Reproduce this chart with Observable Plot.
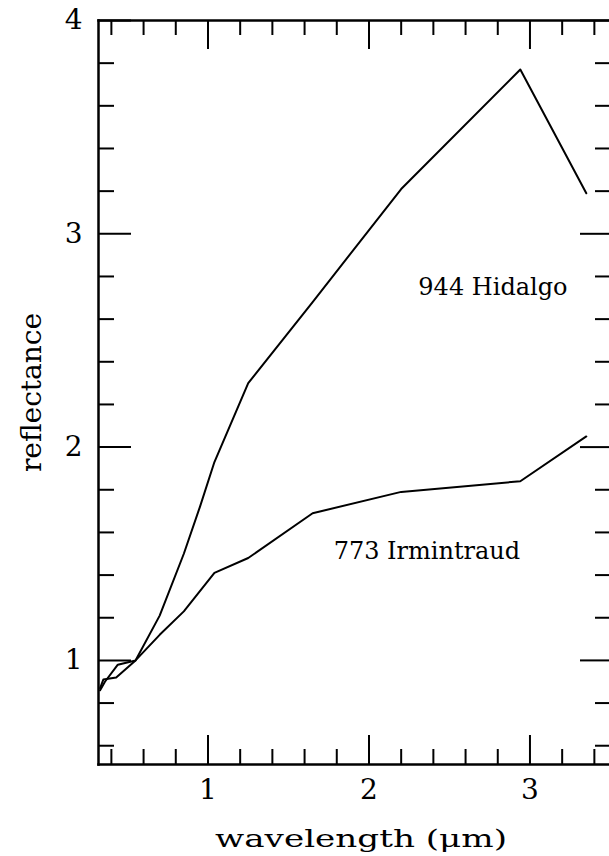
<!DOCTYPE html>
<html><head><meta charset="utf-8">
<script src="https://cdn.jsdelivr.net/npm/d3@7"></script>
<script src="https://cdn.jsdelivr.net/npm/@observablehq/plot@0.6"></script>
<style>html,body{margin:0;padding:0;background:#fff}</style>
</head><body><div id="chart"></div>
<script>
// Data
const hidalgoWavelength  = [0.33, 0.36, 0.44, 0.55, 0.70, 0.85, 0.95, 1.04, 1.25, 1.65, 2.20, 2.94, 3.35];
const hidalgoReflectance = [0.86, 0.90, 0.98, 1.00, 1.21, 1.50, 1.72, 1.93, 2.30, 2.68, 3.21, 3.77, 3.19];
const irmWavelength      = [0.33, 0.35, 0.43, 0.55, 0.70, 0.85, 1.04, 1.25, 1.65, 2.20, 2.94, 3.35];
const irmReflectance     = [0.87, 0.91, 0.92, 1.00, 1.12, 1.23, 1.41, 1.48, 1.69, 1.79, 1.84, 2.05];
const seriesNames = ["944 Hidalgo", "773 Irmintraud"];
const labelX = [2.77, 2.36];
const labelY = [2.75, 1.51];
const xMajorTicks = [1, 2, 3];
const xMinorTicks = [0.4, 0.6, 0.8, 1.2, 1.4, 1.6, 1.8, 2.2, 2.4, 2.6, 2.8, 3.2, 3.4];
const yMajorTicks = [1, 2, 3, 4];
const yMinorTicks = [0.6, 0.8, 1.2, 1.4, 1.6, 1.8, 2.2, 2.4, 2.6, 2.8, 3.2, 3.4, 3.6, 3.8];
const xTitle = "wavelength (\u03bcm)";
const yTitle = "reflectance";

const hidalgo = hidalgoWavelength.map((w, i) => ({w, r: hidalgoReflectance[i]}));
const irm = irmWavelength.map((w, i) => ({w, r: irmReflectance[i]}));
const labels = seriesNames.map((name, i) => ({name, x: labelX[i], y: labelY[i]}));

const W = 609, H = 856, mL = 98, mR = 0, mT = 20, mB = 92;
const iW = W - mL - mR, iH = H - mT - mB;
const sw = 2;

const chart = Plot.plot({
  width: W, height: H,
  marginLeft: mL, marginRight: mR, marginTop: mT, marginBottom: mB,
  style: {fontFamily: "DejaVu Serif", background: "#fff", color: "#000"},
  x: {domain: [0.32, 3.494]},
  y: {domain: [0.512, 4]},
  marks: [
    Plot.frame({anchor: "left", strokeWidth: 2.5}),
    Plot.frame({anchor: "top", strokeWidth: 2.5}),
    Plot.frame({anchor: "bottom", strokeWidth: 2.5}),
    // bottom ticks
    Plot.tickX(xMinorTicks, {x: d => d, insetTop: iH - 15, strokeWidth: sw}),
    Plot.tickX(xMajorTicks, {x: d => d, insetTop: iH - 29, strokeWidth: sw}),
    // top ticks
    Plot.tickX(xMinorTicks, {x: d => d, insetBottom: iH - 15, strokeWidth: sw}),
    Plot.tickX(xMajorTicks, {x: d => d, insetBottom: iH - 29, strokeWidth: sw}),
    // left ticks
    Plot.tickY(yMinorTicks, {y: d => d, insetRight: iW - 16, strokeWidth: sw}),
    Plot.tickY(yMajorTicks, {y: d => d, insetRight: iW - 33, strokeWidth: sw}),
    // right ticks
    Plot.tickY(yMinorTicks, {y: d => d, insetLeft: iW - 14, strokeWidth: sw}),
    Plot.tickY(yMajorTicks, {y: d => d, insetLeft: iW - 29, strokeWidth: sw}),
    // data
    Plot.line(hidalgo, {x: "w", y: "r", stroke: "#000", strokeWidth: 2}),
    Plot.line(irm, {x: "w", y: "r", stroke: "#000", strokeWidth: 2}),
    Plot.text(labels, {x: "x", y: "y", text: "name", fontSize: 24, fill: "#000"}),
    // axes
    Plot.axisX({ticks: xMajorTicks, tickFormat: d3.format("d"), tickSize: 0, tickPadding: 15, fontSize: 28, label: null}),
    Plot.axisY({ticks: yMajorTicks, tickFormat: d3.format("d"), tickSize: 0, tickPadding: 16, fontSize: 28, label: null}),
    Plot.text([xTitle], {frameAnchor: "bottom", dy: 82, dx: 7, fontSize: 25, fill: "#000"}),
    Plot.text([yTitle], {frameAnchor: "left", rotate: -90, dx: -66, textAnchor: "middle", fontSize: 28, fill: "#000"})
  ]
});

d3.select(chart).selectAll("text")
  .filter(function () { return this.textContent === xTitle; })
  .attr("textLength", 292).attr("lengthAdjust", "spacingAndGlyphs");

document.getElementById("chart").appendChild(chart);
</script>
</body></html>
